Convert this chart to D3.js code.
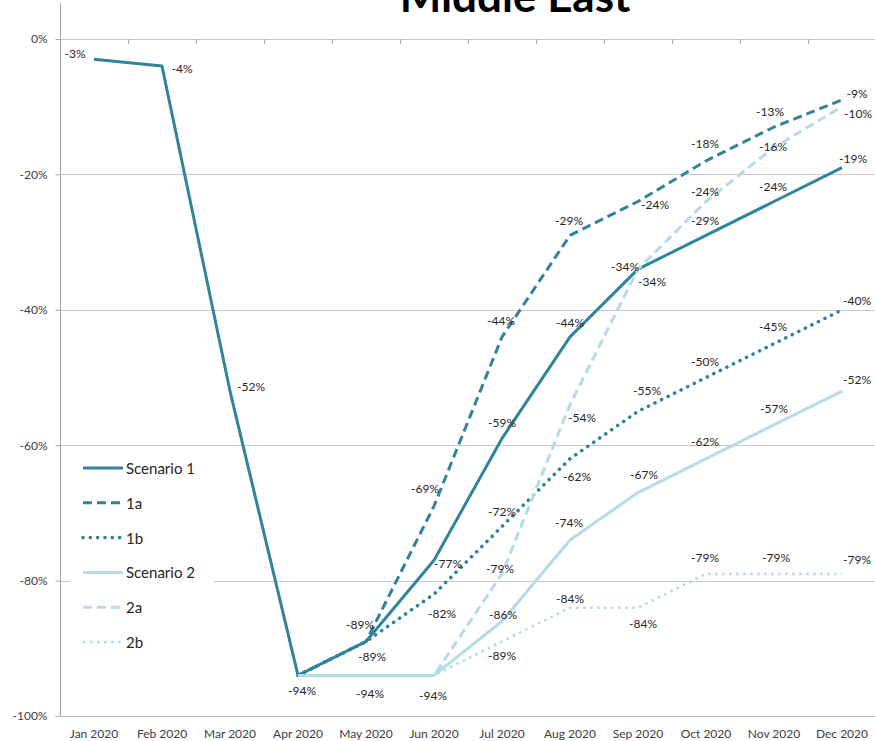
<!DOCTYPE html>
<html>
<head>
<meta charset="utf-8">
<script src="https://cdn.jsdelivr.net/npm/d3@7/dist/d3.min.js"></script>
<style>
  html, body { margin: 0; padding: 0; background: #fff; }
  svg { display: block; font-family: Lato, "Open Sans", sans-serif; }
</style>
</head>
<body>
<svg id="chart" width="875" height="741"></svg>
<script>
// ---- data ----
const months = ["Jan 2020","Feb 2020","Mar 2020","Apr 2020","May 2020","Jun 2020","Jul 2020","Aug 2020","Sep 2020","Oct 2020","Nov 2020","Dec 2020"];
const yTicks = [0, -0.2, -0.4, -0.6, -0.8, -1.0];
const scenario1 = [-0.03, -0.04, -0.52, -0.94, -0.89, -0.77, -0.59, -0.44, -0.34, -0.29, -0.24, -0.19];
const s1a       = [null, null, null, -0.94, -0.89, -0.69, -0.44, -0.29, -0.24, -0.18, -0.13, -0.09];
const s1b       = [null, null, null, -0.94, -0.89, -0.82, -0.72, -0.62, -0.55, -0.50, -0.45, -0.40];
const scenario2 = [null, null, null, -0.94, -0.94, -0.94, -0.86, -0.74, -0.67, -0.62, -0.57, -0.52];
const s2a       = [null, null, null, -0.94, -0.94, -0.94, -0.79, -0.54, -0.34, -0.24, -0.16, -0.10];
const s2b       = [null, null, null, -0.94, -0.94, -0.94, -0.89, -0.84, -0.84, -0.79, -0.79, -0.79];
const seriesNames = ["Scenario 1", "1a", "1b", "Scenario 2", "2a", "2b"];
const seriesValues = [scenario1, s1a, s1b, scenario2, s2a, s2b];

// ---- styles / layout (not data) ----
const dark = "#31849B", light = "#B4DBE6";
const styles = [
  {color: dark,  width: 3,   dash: null,      cap: "butt"},
  {color: dark,  width: 3,   dash: "9,5",     cap: "butt"},
  {color: dark,  width: 3.6, dash: "0.1,7.2", cap: "round"},
  {color: light, width: 3,   dash: null,      cap: "butt"},
  {color: light, width: 3,   dash: "9,5",     cap: "butt"},
  {color: light, width: 2.6, dash: "2.6,4.4", cap: "butt"}
];
// label offsets [dx, dy] from each point; null = no label shown
const labelOffsets = [
  [[-19,-6],[20,2],[21,-5],[4,15],[6,15],[14,3],[0,-16],[0,-14],[-13,-3],[-1,-15],[-1,-15],[11,-9]],
  [null,null,null,null,[-6,-17],[-9,-18],[-1,-16],[-1,-15],[17,3],[-1,-17],[-4,-16],[15,-6]],
  [null,null,null,null,null,[8,19],[0,-15],[7,18],[9,-21],[-1,-16],[-1,-17],[15,-9]],
  [null,null,null,null,[4,18],[-1,20],[1,-7],[-1,-17],[6,-18],[-1,-17],[0,-16],[15,-12]],
  [null,null,null,null,null,null,[-2,-5],[12,13],[14,12],[-1,-10],[-1,-1],[16,7]],
  [null,null,null,null,null,null,[0,14],[0,-9],[5,16],[-1,-16],[2,-16],[15,-14]]
];

const svg = d3.select("#chart");
const W = 875;
const x = d3.scaleBand().domain(months).range([60, 876]).paddingInner(0).paddingOuter(0);
const y = d3.scaleLinear().domain([-1, 0]).range([716, 39]);
const cx = m => x(m) + x.bandwidth() / 2;
const pct = d3.format(".0%");
const fmt = v => pct(v).replace("\u2212", "-");

// title (cut off at the top edge, as in the reference)
svg.append("text").attr("x", 515).attr("y", 12).attr("text-anchor", "middle")
  .attr("font-size", 44).attr("font-weight", "bold").attr("fill", "#000").text("Middle East");

// gridlines
svg.append("g").selectAll("line").data(yTicks.filter(t => t !== -1)).join("line")
  .attr("x1", 60).attr("x2", W).attr("y1", d => Math.round(y(d)) + 0.5).attr("y2", d => Math.round(y(d)) + 0.5)
  .attr("stroke", "#C8C8C8").attr("stroke-width", 1);

// y axis
const yAxis = d3.axisLeft(y).tickValues(yTicks).tickFormat(fmt).tickSize(5).tickPadding(8);
const gy = svg.append("g").attr("transform", "translate(60.5,0)").call(yAxis);
gy.select(".domain").remove();
gy.selectAll(".tick line").attr("stroke", "#A6A6A6");
gy.selectAll(".tick text").attr("font-family", "Lato, sans-serif").attr("font-size", 12).attr("fill", "#404040");
svg.append("line").attr("x1", 60.5).attr("x2", 60.5).attr("y1", 3).attr("y2", 716.5).attr("stroke", "#A6A6A6");
// bottom line
svg.append("line").attr("x1", 55).attr("x2", W).attr("y1", 716.5).attr("y2", 716.5).attr("stroke", "#BFBFBF");

// category axis (crossing at 0%) with ticks at boundaries
const boundaries = months.slice(1).map(m => x(m));
svg.append("g").selectAll("line").data(boundaries).join("line")
  .attr("x1", d => Math.round(d) + 0.5).attr("x2", d => Math.round(d) + 0.5)
  .attr("y1", y(0)).attr("y2", y(0) + 5).attr("stroke", "#A6A6A6");
// category labels at bottom
svg.append("g").selectAll("text").data(months).join("text")
  .attr("x", d => cx(d)).attr("y", 738).attr("text-anchor", "middle")
  .attr("font-size", 12).attr("fill", "#404040").text(d => d);

// lines
const line = d3.line().defined(d => d.v !== null).x(d => cx(d.m)).y(d => y(d.v));
seriesValues.forEach((vals, i) => {
  const st = styles[i];
  const pts = months.map((m, j) => ({m, v: vals[j]}));
  svg.append("path").datum(pts).attr("d", line).attr("fill", "none")
    .attr("stroke", st.color).attr("stroke-width", st.width)
    .attr("stroke-dasharray", st.dash).attr("stroke-linecap", st.cap).attr("stroke-linejoin", "round");
});

// data labels
seriesValues.forEach((vals, i) => {
  const pts = months.map((m, j) => ({m, v: vals[j], off: labelOffsets[i][j]})).filter(d => d.v !== null && d.off);
  svg.append("g").selectAll("text").data(pts).join("text")
    .attr("x", d => cx(d.m) + d.off[0]).attr("y", d => y(d.v) + d.off[1])
    .attr("text-anchor", "middle").attr("dominant-baseline", "central")
    .attr("font-size", 12).attr("fill", "#262626").text(d => fmt(d.v));
});

// legend
const lg = svg.append("g");
lg.append("rect").attr("x", 70).attr("y", 451).attr("width", 144).attr("height", 206).attr("fill", "#fff");
seriesNames.forEach((name, i) => {
  const st = styles[i];
  const ly = 468 + i * 34.8;
  lg.append("line").attr("x1", 83).attr("x2", 123).attr("y1", ly).attr("y2", ly)
    .attr("stroke", st.color).attr("stroke-width", st.width)
    .attr("stroke-dasharray", st.dash).attr("stroke-linecap", st.cap);
  lg.append("text").attr("x", 126).attr("y", ly).attr("dominant-baseline", "central")
    .attr("font-size", 15).attr("fill", "#262626").text(name);
});
</script>
</body>
</html>
